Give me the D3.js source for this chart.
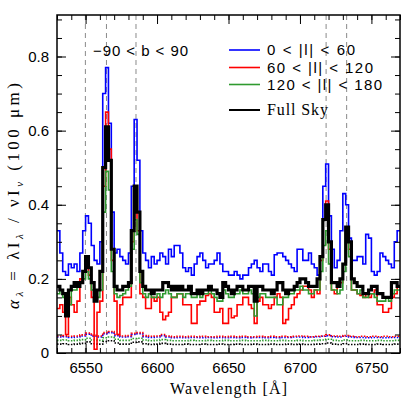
<!DOCTYPE html>
<html>
<head>
<meta charset="utf-8">
<script src="https://cdn.jsdelivr.net/npm/d3@7"></script>
<style>
html,body{margin:0;padding:0;background:#fff;}
svg{display:block;}
</style>
</head>
<body>
<svg id="chart" width="415" height="415"></svg>
<script>
// ---------------- DATA ----------------
const lamStart = 6530;      // start of first bin [Å]
const binWidth = 2;         // bin width of the spectra [Å]
const errBinWidth = 4;      // bin width of the dotted (error) curves [Å]

const seriesNames = ["0 < |l| < 60", "60 < |l| < 120", "120 < |l| < 180", "Full Sky"];

const blueVals = [0.33,0.27,0.22,0.21,0.24,0.23,0.24,0.22,0.27,0.33,0.37,0.35,0.29,0.25,0.24,0.30,0.70,0.77,0.62,0.38,
0.27,0.28,0.26,0.25,0.24,0.27,0.45,0.63,0.52,0.33,0.27,0.25,0.23,0.26,0.24,0.25,0.27,0.26,0.24,0.28,
0.26,0.29,0.29,0.27,0.23,0.22,0.23,0.21,0.24,0.26,0.27,0.25,0.23,0.24,0.24,0.25,0.27,0.24,0.22,0.22,
0.21,0.21,0.22,0.21,0.20,0.21,0.21,0.23,0.24,0.25,0.23,0.22,0.24,0.24,0.22,0.21,0.265,0.27,0.27,0.26,
0.25,0.24,0.23,0.22,0.28,0.28,0.25,0.25,0.27,0.24,0.23,0.21,0.26,0.45,0.51,0.37,0.28,0.23,0.25,0.33,
0.43,0.40,0.31,0.25,0.25,0.26,0.26,0.24,0.32,0.31,0.22,0.21,0.22,0.27,0.26,0.25,0.24,0.23,0.30,0.33];

const redVals = [0.12,0.13,0.11,0.05,0.15,0.13,0.11,0.14,0.20,0.22,0.25,0.21,0.15,0.01,0.11,0.14,0.45,0.65,0.55,0.25,
0.14,0.05,0.13,0.15,0.15,0.15,0.30,0.41,0.33,0.16,0.15,0.12,0.12,0.15,0.14,0.15,0.11,0.09,0.10,0.11,
0.15,0.15,0.16,0.16,0.13,0.13,0.13,0.08,0.08,0.13,0.14,0.14,0.155,0.16,0.15,0.11,0.11,0.12,0.08,0.08,
0.12,0.095,0.10,0.13,0.13,0.15,0.15,0.13,0.12,0.08,0.14,0.15,0.13,0.13,0.12,0.13,0.15,0.16,0.15,0.08,
0.09,0.12,0.13,0.15,0.16,0.17,0.18,0.18,0.17,0.15,0.17,0.16,0.25,0.36,0.41,0.28,0.17,0.16,0.18,0.19,
0.24,0.34,0.28,0.17,0.17,0.16,0.155,0.15,0.16,0.15,0.16,0.17,0.13,0.13,0.11,0.11,0.12,0.15,0.16,0.18];

const greenVals = [0.16,0.17,0.15,0.10,0.13,0.17,0.17,0.18,0.19,0.20,0.22,0.20,0.17,0.15,0.15,0.17,0.38,0.49,0.44,0.22,
0.16,0.15,0.155,0.16,0.17,0.18,0.28,0.36,0.32,0.19,0.16,0.15,0.16,0.15,0.15,0.16,0.15,0.16,0.17,0.16,
0.15,0.15,0.16,0.16,0.15,0.16,0.16,0.15,0.15,0.16,0.15,0.16,0.16,0.17,0.16,0.15,0.14,0.14,0.17,0.16,
0.15,0.15,0.16,0.16,0.17,0.16,0.16,0.17,0.16,0.10,0.15,0.16,0.16,0.15,0.15,0.15,0.15,0.13,0.13,0.15,
0.15,0.16,0.16,0.17,0.17,0.18,0.17,0.17,0.16,0.16,0.17,0.17,0.22,0.29,0.33,0.24,0.17,0.17,0.16,0.17,
0.22,0.30,0.26,0.17,0.17,0.16,0.17,0.15,0.15,0.16,0.16,0.15,0.14,0.14,0.14,0.15,0.14,0.16,0.17,0.17];

const blackVals = [0.18,0.17,0.16,0.10,0.17,0.18,0.19,0.18,0.19,0.22,0.26,0.23,0.19,0.14,0.17,0.22,0.50,0.61,0.52,0.28,
0.18,0.17,0.17,0.18,0.18,0.19,0.33,0.45,0.38,0.22,0.18,0.17,0.17,0.16,0.17,0.17,0.17,0.19,0.19,0.18,
0.17,0.18,0.17,0.18,0.17,0.17,0.18,0.16,0.16,0.17,0.16,0.17,0.17,0.18,0.17,0.17,0.16,0.15,0.19,0.18,
0.17,0.16,0.17,0.18,0.18,0.17,0.17,0.18,0.18,0.14,0.18,0.18,0.17,0.17,0.17,0.16,0.17,0.19,0.19,0.17,
0.16,0.17,0.17,0.18,0.19,0.20,0.20,0.19,0.18,0.18,0.18,0.20,0.26,0.36,0.40,0.30,0.19,0.19,0.18,0.20,
0.24,0.34,0.30,0.20,0.19,0.18,0.18,0.16,0.16,0.17,0.18,0.18,0.16,0.16,0.15,0.15,0.15,0.19,0.19,0.18];

const redErr = [0.046,0.047,0.045,0.046,0.049,0.054,0.048,0.046,0.055,0.058,0.050,0.046,0.047,0.053,0.055,0.047,0.045,0.046,0.050,0.046,
0.044,0.045,0.044,0.045,0.044,0.045,0.044,0.044,0.045,0.044,0.045,0.044,0.045,0.044,0.044,0.045,0.044,0.045,0.044,0.045,
0.044,0.045,0.046,0.045,0.044,0.045,0.046,0.049,0.046,0.045,0.047,0.045,0.044,0.045,0.044,0.045,0.044,0.045,0.044,0.045];
const blueErr = [0.043,0.044,0.042,0.043,0.046,0.051,0.045,0.043,0.052,0.055,0.047,0.043,0.044,0.050,0.052,0.044,0.042,0.043,0.047,0.043,
0.041,0.042,0.041,0.042,0.042,0.041,0.042,0.041,0.042,0.041,0.042,0.041,0.042,0.041,0.042,0.042,0.041,0.042,0.041,0.042,
0.042,0.043,0.043,0.042,0.043,0.044,0.045,0.047,0.044,0.043,0.045,0.043,0.042,0.042,0.041,0.042,0.042,0.041,0.042,0.042];
const greenErr = [0.034,0.035,0.033,0.034,0.036,0.040,0.035,0.034,0.041,0.043,0.037,0.034,0.034,0.039,0.040,0.035,0.033,0.034,0.036,0.034,
0.033,0.033,0.033,0.034,0.033,0.033,0.034,0.033,0.033,0.034,0.033,0.033,0.034,0.033,0.033,0.033,0.034,0.033,0.033,0.034,
0.033,0.033,0.034,0.033,0.033,0.034,0.035,0.037,0.034,0.033,0.035,0.033,0.033,0.034,0.033,0.033,0.034,0.033,0.033,0.034];
const blackErr = [0.024,0.025,0.023,0.024,0.026,0.030,0.025,0.024,0.031,0.033,0.027,0.024,0.024,0.029,0.030,0.025,0.023,0.024,0.026,0.024,
0.023,0.023,0.024,0.023,0.023,0.024,0.023,0.023,0.024,0.023,0.023,0.024,0.023,0.023,0.024,0.023,0.023,0.024,0.023,0.023,
0.024,0.023,0.024,0.023,0.023,0.024,0.025,0.027,0.024,0.023,0.025,0.023,0.023,0.024,0.023,0.023,0.024,0.023,0.023,0.024];

const lineWavelengths = [6549.86, 6564.61, 6585.27, 6718.29, 6732.67];
const xMajorTicks = [6550, 6600, 6650, 6700, 6750];
const yMajorTicks = [0, 0.2, 0.4, 0.6, 0.8];

// ---------------- LAYOUT ----------------
const mLeft = 57, mRight = 400, mTop = 15, mBottom = 353;
const x = d3.scaleLinear().domain([6530, 6770]).range([mLeft, mRight]);
const y = d3.scaleLinear().domain([0, 0.912]).range([mBottom, mTop]);

const svg = d3.select("#chart");
svg.append("defs").append("clipPath").attr("id", "clip")
  .append("rect").attr("x", mLeft).attr("y", mTop).attr("width", mRight - mLeft).attr("height", mBottom - mTop);

// dashed line markers
svg.append("g").selectAll("line").data(lineWavelengths).join("line")
  .attr("x1", d => x(d)).attr("x2", d => x(d))
  .attr("y1", mTop).attr("y2", mBottom)
  .attr("stroke", "#8a8a8a").attr("stroke-width", 1).attr("stroke-dasharray", "5,4");

function stepPoints(vals, w) {
  const pts = vals.map((v, i) => [lamStart + i * w, v]);
  pts.push([lamStart + vals.length * w, vals[vals.length - 1]]);
  return pts;
}
const stepLine = d3.line().x(d => x(d[0])).y(d => y(d[1])).curve(d3.curveStepAfter);

const plot = svg.append("g").attr("clip-path", "url(#clip)");

const errSeries = [
  {vals: blackErr, color: "#000"},
  {vals: greenErr, color: "#2f9a2f"},
  {vals: blueErr, color: "#0000ff"},
  {vals: redErr, color: "#ff0000"}
];
errSeries.forEach(s => {
  plot.append("path").attr("d", stepLine(stepPoints(s.vals, errBinWidth)))
    .attr("fill", "none").attr("stroke", s.color).attr("stroke-width", 1.6)
    .attr("stroke-dasharray", "1.5,1.5");
});

const mainSeries = [
  {vals: blueVals, color: "#0000ff", w: 1.6},
  {vals: redVals, color: "#ff0000", w: 1.6},
  {vals: greenVals, color: "#2f9a2f", w: 1.6},
  {vals: blackVals, color: "#000000", w: 3.2}
];
mainSeries.forEach(s => {
  plot.append("path").attr("d", stepLine(stepPoints(s.vals, binWidth)))
    .attr("fill", "none").attr("stroke", s.color).attr("stroke-width", s.w)
    .attr("stroke-linejoin", "miter");
});

// ---------------- AXES ----------------
const fontSans = "'Liberation Sans', Arial, Helvetica, sans-serif";
const fontSerif = "'Liberation Serif', 'Times New Roman', serif";
const xMinor = d3.range(6530, 6771, 10);
const yMinor = d3.range(0, 0.91, 0.05);

function styleAxis(g) {
  g.select(".domain").remove();
  g.selectAll(".tick line").attr("stroke", "#000").attr("stroke-width", 1);
  g.selectAll(".tick text").attr("font-family", fontSans).attr("font-size", 15).attr("fill", "#000");
}

// bottom
svg.append("g").attr("transform", `translate(0,${mBottom})`)
  .call(d3.axisBottom(x).tickValues(xMinor).tickSize(-5).tickFormat("")).call(styleAxis);
svg.append("g").attr("transform", `translate(0,${mBottom})`)
  .call(d3.axisBottom(x).tickValues(xMajorTicks).tickSize(-9).tickPadding(9).tickFormat(d3.format("d"))).call(styleAxis);
// top
svg.append("g").attr("transform", `translate(0,${mTop})`)
  .call(d3.axisTop(x).tickValues(xMinor).tickSize(-5).tickFormat("")).call(styleAxis);
svg.append("g").attr("transform", `translate(0,${mTop})`)
  .call(d3.axisTop(x).tickValues(xMajorTicks).tickSize(-9).tickFormat("")).call(styleAxis);
// left
svg.append("g").attr("transform", `translate(${mLeft},0)`)
  .call(d3.axisLeft(y).tickValues(yMinor).tickSize(-5).tickFormat("")).call(styleAxis);
svg.append("g").attr("transform", `translate(${mLeft},0)`)
  .call(d3.axisLeft(y).tickValues(yMajorTicks).tickSize(-9).tickPadding(8).tickFormat(d => d === 0 ? "0" : d3.format(".1f")(d))).call(styleAxis);
// right
svg.append("g").attr("transform", `translate(${mRight},0)`)
  .call(d3.axisRight(y).tickValues(yMinor).tickSize(-5).tickFormat("")).call(styleAxis);
svg.append("g").attr("transform", `translate(${mRight},0)`)
  .call(d3.axisRight(y).tickValues(yMajorTicks).tickSize(-9).tickFormat("")).call(styleAxis);

// frame
svg.append("rect").attr("x", mLeft).attr("y", mTop).attr("width", mRight - mLeft).attr("height", mBottom - mTop)
  .attr("fill", "none").attr("stroke", "#000").attr("stroke-width", 1.5);

// ---------------- TEXT ----------------
svg.append("text").attr("x", 93).attr("y", 56).attr("font-family", fontSans).attr("font-size", 15)
  .attr("textLength", 95).attr("lengthAdjust", "spacing").text("\u221290 < b < 90");

// legend
const legendColors = ["#0000ff", "#ff0000", "#2f9a2f", "#000000"];
const legendY = [50, 67.5, 84.5, 110];
const legendLen = [88, 106, 115, 61];
const lg = svg.append("g");
seriesNames.forEach((name, i) => {
  lg.append("line").attr("x1", 229).attr("x2", 260).attr("y1", legendY[i]).attr("y2", legendY[i])
    .attr("stroke", legendColors[i]).attr("stroke-width", i === 3 ? 2 : 1.6);
  lg.append("text").attr("x", 267).attr("y", legendY[i] + 5)
    .attr("font-family", i === 3 ? fontSerif : fontSans).attr("font-size", i === 3 ? 16 : 15)
    .attr("textLength", legendLen[i]).attr("lengthAdjust", "spacing").text(name);
});

// x axis title
svg.append("text").attr("x", 170).attr("y", 394).attr("font-family", fontSerif).attr("font-size", 16)
  .attr("textLength", 117).attr("lengthAdjust", "spacing").text("Wavelength [\u00c5]");

// y axis title
const yt = svg.append("text").attr("transform", "translate(19,196) rotate(-90)")
  .attr("text-anchor", "middle").attr("font-family", fontSerif).attr("font-size", 17)
  .attr("textLength", 226).attr("lengthAdjust", "spacing");
yt.append("tspan").attr("font-style", "italic").text("\u03b1");
yt.append("tspan").attr("font-size", 11).attr("dy", 4).attr("font-style", "italic").text("\u03bb");
yt.append("tspan").attr("dy", -4).text(" = \u03bbI");
yt.append("tspan").attr("font-size", 11).attr("dy", 4).attr("font-style", "italic").text("\u03bb");
yt.append("tspan").attr("dy", -4).text(" / \u03bdI");
yt.append("tspan").attr("font-size", 11).attr("dy", 4).attr("font-style", "italic").text("\u03bd");
yt.append("tspan").attr("dy", -4).text(" (100 \u03bcm)");
</script>
</body>
</html>
